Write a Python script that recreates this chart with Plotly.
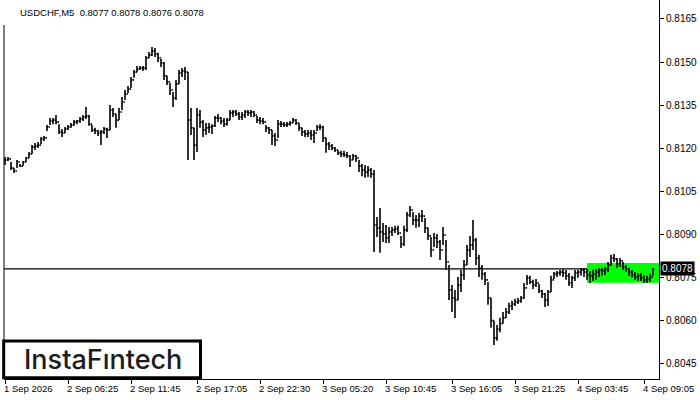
import plotly.graph_objects as go

symbol_title = "USDCHF,M5  0.8077 0.8078 0.8076 0.8078"

highs = [
    0.81170, 0.81170, 0.81152, 0.81131, 0.81159, 0.81145, 0.81156, 0.81170, 0.81187, 0.81211,
    0.81218, 0.81222, 0.81239, 0.81243, 0.81281, 0.81305, 0.81305, 0.81316, 0.81284, 0.81267,
    0.81274, 0.81281, 0.81288, 0.81298, 0.81298, 0.81309, 0.81316, 0.81344, 0.81316, 0.81281,
    0.81271, 0.81264, 0.81264, 0.81274, 0.81271, 0.81351, 0.81340, 0.81319, 0.81340, 0.81378,
    0.81403, 0.81417, 0.81448, 0.81472, 0.81486, 0.81486, 0.81486, 0.81521, 0.81535, 0.81552,
    0.81549, 0.81532, 0.81511, 0.81500, 0.81452, 0.81427, 0.81396, 0.81438, 0.81472, 0.81479,
    0.81483, 0.81465, 0.81340, 0.81271, 0.81340, 0.81333, 0.81298, 0.81288, 0.81288, 0.81284,
    0.81312, 0.81319, 0.81309, 0.81305, 0.81305, 0.81333, 0.81333, 0.81333, 0.81326, 0.81326,
    0.81333, 0.81333, 0.81333, 0.81330, 0.81312, 0.81309, 0.81305, 0.81281, 0.81274, 0.81264,
    0.81253, 0.81298, 0.81295, 0.81291, 0.81291, 0.81295, 0.81305, 0.81302, 0.81288, 0.81271,
    0.81264, 0.81264, 0.81264, 0.81264, 0.81281, 0.81284, 0.81278, 0.81236, 0.81222, 0.81215,
    0.81204, 0.81194, 0.81191, 0.81191, 0.81187, 0.81177, 0.81180, 0.81177, 0.81159, 0.81145,
    0.81142, 0.81138, 0.81131, 0.81124, 0.80961, 0.80992, 0.80940, 0.80933, 0.80926, 0.80926,
    0.80930, 0.80930, 0.80895, 0.80930, 0.80978, 0.80999, 0.80978, 0.80968, 0.80975, 0.80985,
    0.80957, 0.80923, 0.80891, 0.80905, 0.80902, 0.80881, 0.80926, 0.80881, 0.80794, 0.80724,
    0.80707, 0.80752, 0.80776, 0.80811, 0.80863, 0.80895, 0.80950, 0.80888, 0.80829, 0.80794,
    0.80769, 0.80735, 0.80679, 0.80600, 0.80585, 0.80610, 0.80630, 0.80644, 0.80662, 0.80669,
    0.80676, 0.80679, 0.80686, 0.80731, 0.80759, 0.80756, 0.80742, 0.80745, 0.80728, 0.80707,
    0.80696, 0.80707, 0.80756, 0.80769, 0.80773, 0.80776, 0.80780, 0.80776, 0.80766, 0.80756,
    0.80776, 0.80776, 0.80783, 0.80783, 0.80780, 0.80773, 0.80776, 0.80780, 0.80783, 0.80783,
    0.80787, 0.80804, 0.80829, 0.80832, 0.80818, 0.80818, 0.80804, 0.80794, 0.80783, 0.80776,
    0.80769, 0.80766, 0.80766, 0.80759, 0.80756, 0.80763, 0.80783,
]

lows = [
    0.81142, 0.81156, 0.81124, 0.81114, 0.81131, 0.81135, 0.81138, 0.81152, 0.81166, 0.81180,
    0.81194, 0.81201, 0.81215, 0.81225, 0.81260, 0.81281, 0.81284, 0.81284, 0.81250, 0.81239,
    0.81253, 0.81264, 0.81271, 0.81278, 0.81284, 0.81288, 0.81295, 0.81302, 0.81278, 0.81257,
    0.81250, 0.81243, 0.81211, 0.81250, 0.81236, 0.81264, 0.81309, 0.81271, 0.81298, 0.81333,
    0.81368, 0.81392, 0.81410, 0.81445, 0.81465, 0.81472, 0.81469, 0.81472, 0.81514, 0.81521,
    0.81518, 0.81500, 0.81483, 0.81438, 0.81420, 0.81385, 0.81344, 0.81368, 0.81424, 0.81448,
    0.81438, 0.81159, 0.81246, 0.81159, 0.81187, 0.81271, 0.81239, 0.81246, 0.81253, 0.81250,
    0.81274, 0.81291, 0.81284, 0.81274, 0.81278, 0.81298, 0.81309, 0.81312, 0.81298, 0.81298,
    0.81305, 0.81312, 0.81309, 0.81309, 0.81288, 0.81284, 0.81284, 0.81257, 0.81250, 0.81211,
    0.81208, 0.81236, 0.81274, 0.81274, 0.81274, 0.81278, 0.81288, 0.81281, 0.81260, 0.81243,
    0.81239, 0.81239, 0.81229, 0.81218, 0.81260, 0.81264, 0.81222, 0.81184, 0.81194, 0.81194,
    0.81187, 0.81177, 0.81170, 0.81170, 0.81166, 0.81135, 0.81159, 0.81152, 0.81117, 0.81103,
    0.81097, 0.81100, 0.81097, 0.80839, 0.80891, 0.80836, 0.80874, 0.80870, 0.80870, 0.80895,
    0.80905, 0.80898, 0.80853, 0.80860, 0.80909, 0.80961, 0.80933, 0.80923, 0.80926, 0.80943,
    0.80905, 0.80881, 0.80822, 0.80856, 0.80853, 0.80811, 0.80863, 0.80776, 0.80672, 0.80630,
    0.80609, 0.80672, 0.80700, 0.80742, 0.80794, 0.80822, 0.80846, 0.80794, 0.80752, 0.80742,
    0.80724, 0.80655, 0.80575, 0.80515, 0.80530, 0.80560, 0.80590, 0.80609, 0.80623, 0.80637,
    0.80651, 0.80658, 0.80662, 0.80676, 0.80724, 0.80728, 0.80710, 0.80717, 0.80696, 0.80679,
    0.80648, 0.80651, 0.80700, 0.80745, 0.80752, 0.80756, 0.80752, 0.80742, 0.80721, 0.80714,
    0.80738, 0.80749, 0.80756, 0.80752, 0.80742, 0.80731, 0.80738, 0.80742, 0.80752, 0.80756,
    0.80759, 0.80769, 0.80790, 0.80804, 0.80783, 0.80787, 0.80776, 0.80769, 0.80756, 0.80749,
    0.80742, 0.80738, 0.80738, 0.80731, 0.80731, 0.80735, 0.80756,
]

closes = [
    0.81159, 0.81163, 0.81131, 0.81121, 0.81152, 0.81138, 0.81152, 0.81166, 0.81180, 0.81204,
    0.81208, 0.81211, 0.81232, 0.81236, 0.81274, 0.81295, 0.81298, 0.81291, 0.81257, 0.81253,
    0.81267, 0.81274, 0.81281, 0.81291, 0.81295, 0.81302, 0.81309, 0.81312, 0.81284, 0.81264,
    0.81260, 0.81253, 0.81257, 0.81267, 0.81264, 0.81333, 0.81319, 0.81298, 0.81326, 0.81361,
    0.81389, 0.81406, 0.81438, 0.81465, 0.81476, 0.81479, 0.81479, 0.81514, 0.81525, 0.81539,
    0.81528, 0.81514, 0.81497, 0.81452, 0.81431, 0.81403, 0.81375, 0.81424, 0.81462, 0.81469,
    0.81465, 0.81298, 0.81271, 0.81211, 0.81316, 0.81291, 0.81264, 0.81271, 0.81274, 0.81278,
    0.81305, 0.81305, 0.81295, 0.81284, 0.81298, 0.81323, 0.81326, 0.81319, 0.81309, 0.81316,
    0.81326, 0.81323, 0.81326, 0.81316, 0.81298, 0.81295, 0.81291, 0.81271, 0.81264, 0.81243,
    0.81229, 0.81284, 0.81284, 0.81281, 0.81284, 0.81288, 0.81298, 0.81288, 0.81271, 0.81257,
    0.81250, 0.81253, 0.81246, 0.81253, 0.81274, 0.81274, 0.81236, 0.81215, 0.81208, 0.81201,
    0.81194, 0.81184, 0.81180, 0.81177, 0.81173, 0.81159, 0.81173, 0.81166, 0.81138, 0.81124,
    0.81117, 0.81124, 0.81110, 0.80933, 0.80923, 0.80909, 0.80902, 0.80888, 0.80909, 0.80916,
    0.80919, 0.80905, 0.80867, 0.80916, 0.80968, 0.80985, 0.80950, 0.80950, 0.80964, 0.80964,
    0.80923, 0.80895, 0.80846, 0.80888, 0.80874, 0.80846, 0.80898, 0.80804, 0.80707, 0.80679,
    0.80672, 0.80724, 0.80759, 0.80794, 0.80846, 0.80863, 0.80881, 0.80818, 0.80783, 0.80763,
    0.80742, 0.80679, 0.80600, 0.80540, 0.80570, 0.80590, 0.80610, 0.80630, 0.80651, 0.80658,
    0.80665, 0.80669, 0.80679, 0.80714, 0.80749, 0.80735, 0.80724, 0.80731, 0.80703, 0.80693,
    0.80672, 0.80700, 0.80742, 0.80763, 0.80766, 0.80769, 0.80766, 0.80756, 0.80731, 0.80749,
    0.80766, 0.80769, 0.80776, 0.80769, 0.80759, 0.80756, 0.80763, 0.80769, 0.80776, 0.80773,
    0.80780, 0.80794, 0.80818, 0.80815, 0.80797, 0.80808, 0.80787, 0.80780, 0.80769, 0.80759,
    0.80752, 0.80756, 0.80749, 0.80742, 0.80745, 0.80752, 0.80780,
]

first_open = 0.81160
opens = [first_open] + closes[:-1]
bars = list(range(len(closes)))

time_labels = ["1 Sep 2026", "2 Sep 06:25", "2 Sep 11:45", "2 Sep 17:05", "2 Sep 22:30",
               "3 Sep 05:20", "3 Sep 10:45", "3 Sep 16:05", "3 Sep 21:25", "4 Sep 03:45",
               "4 Sep 09:05"]
time_label_bars = [0, 21, 42, 64, 85, 106, 127, 149, 170, 191, 213]

price_ticks = [0.8045, 0.8060, 0.8075, 0.8090, 0.8105, 0.8120, 0.8135, 0.8150, 0.8165]
current_price = 0.8078
pattern_start_bar = 194
pattern_high = 0.80801
pattern_low = 0.80732

FONT = "Liberation Sans"

fig = go.Figure()
fig.add_trace(go.Ohlc(
    x=bars, open=opens, high=highs, low=lows, close=closes,
    increasing=dict(line=dict(color="black", width=1.6)),
    decreasing=dict(line=dict(color="black", width=1.6)),
    tickwidth=0.45, hoverinfo="skip", showlegend=False,
))

shapes = [
    dict(type="rect", xref="x", yref="y", x0=pattern_start_bar, x1=218,
         y0=pattern_low, y1=pattern_high, fillcolor="#00FF00", line=dict(width=0),
         layer="below"),
    dict(type="line", xref="paper", yref="y", x0=0, x1=1, y0=current_price, y1=current_price,
         line=dict(color="black", width=1.3), layer="below"),
    dict(type="line", xref="paper", yref="paper", x0=0, x1=0, y0=0, y1=0.934,
         line=dict(color="black", width=1)),
    dict(type="rect", xref="paper", yref="paper", x0=-0.0005, x1=0.3, y0=0.003, y1=0.100,
         fillcolor="white", line=dict(color="black", width=3), layer="above"),
]

annotations = [
    dict(text=symbol_title, xref="paper", yref="paper", x=0.0215, y=0.968,
         xanchor="left", yanchor="middle", showarrow=False,
         font=dict(family=FONT, size=9.5, color="black")),
    dict(text="0.8078", xref="paper", yref="y", x=1, y=current_price, xanchor="left",
         yanchor="middle", xshift=1, showarrow=False, bgcolor="black", borderpad=1,
         font=dict(family=FONT, size=10, color="white")),
    dict(text="InstaF\u0131ntech", xref="paper", yref="paper", x=0.151, y=0.052,
         xanchor="center", yanchor="middle", showarrow=False,
         font=dict(family="Inter", size=27, color="#1c1c1c", weight=500)),
]
for lab, b in zip(time_labels, time_label_bars):
    annotations.append(dict(text=lab, xref="x", yref="paper", x=b, y=0, xanchor="left",
                            yanchor="top", yshift=-2, xshift=-3, showarrow=False,
                            font=dict(family=FONT, size=9.5, color="black")))

fig.update_layout(
    width=700, height=400,
    margin=dict(l=4, r=41, t=0, b=21),
    paper_bgcolor="white", plot_bgcolor="white",
    shapes=shapes, annotations=annotations,
    showlegend=False,
    xaxis=dict(range=[-0.333, 218], tickvals=time_label_bars, showticklabels=False,
               ticks="outside", ticklen=4, tickcolor="black", showline=True,
               linecolor="black", linewidth=1, showgrid=False, zeroline=False,
               rangeslider=dict(visible=False), fixedrange=True),
    yaxis=dict(range=[0.80397, 0.81716], side="right", tickvals=price_ticks,
               tickformat=".4f", ticks="outside", ticklen=4, tickcolor="black",
               showline=True, linecolor="black", linewidth=1, showgrid=False,
               zeroline=False, tickfont=dict(family=FONT, size=10, color="black"),
               fixedrange=True),
)

fig.write_html("out.html", config={"displayModeBar": False},
               post_script="document.body.style.margin='0';document.body.style.overflow='hidden';")
